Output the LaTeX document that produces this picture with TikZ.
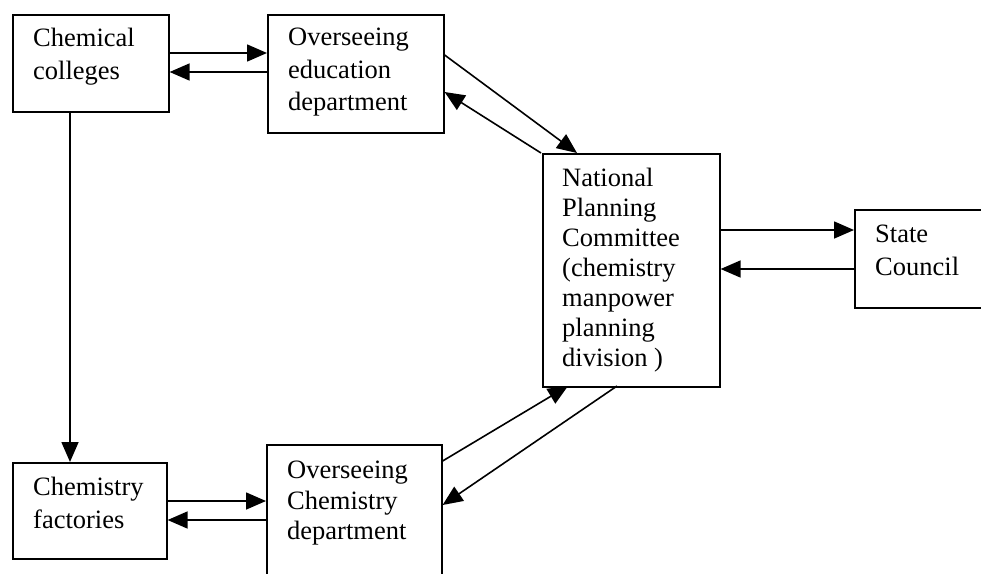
\documentclass[tikz,border=0pt]{standalone}
\usepackage{fontspec}
\setmainfont{Liberation Serif}
\usetikzlibrary{arrows.meta}
\tikzset{
  x=1pt, y=-1pt,
  boxframe/.style={draw, line width=1.6pt, anchor=north west, inner sep=0pt},
  boxtext/.style={anchor=north west, inner sep=0pt, align=left, font=\fontsize{26.5}{32.5}\selectfont},
  conn/.style={line width=1.6pt, -{Triangle[length=20pt, width=17pt]}}
}
\begin{document}
\begin{tikzpicture}
\useasboundingbox (0,0) rectangle (981,573);
% boxes
\node[boxframe, minimum width=156pt, minimum height=97pt] (cc) at (12,14) {};
\node[boxtext] (cct) at (33,28) {Chemical\\colleges};
\node[boxframe, minimum width=176pt, minimum height=118pt] (oe) at (267,14) {};
\node[boxtext] (oet) at (288,28) {Overseeing\\education\\department};
\node[boxframe, minimum width=177pt, minimum height=233pt] (np) at (542,153) {};
\node[boxtext, font=\fontsize{26.5}{30}\selectfont] (npt) at (562,168) {National\\Planning\\Committee\\(chemistry\\manpower\\planning\\division )};
\node[boxframe, minimum width=140pt, minimum height=98pt] (sc) at (854,209) {};
\node[boxtext] (sct) at (875,225) {State\\Council};
\node[boxframe, minimum width=154pt, minimum height=96pt] (cf) at (12,462) {};
\node[boxtext] (cft) at (33,477) {Chemistry\\factories};
\node[boxframe, minimum width=175pt, minimum height=140pt] (oc) at (266,444) {};
\node[boxtext, font=\fontsize{26.5}{30.5}\selectfont] (oct) at (287,461) {Overseeing\\Chemistry\\department};
% connectors
\draw[conn] (cc.east |- 0,53) -- (oe.west |- 0,53);
\draw[conn] (oe.west |- 0,72) -- (cc.east |- 0,72);
\draw[conn] (70,111) -- (70,462);
\draw[conn] (cf.east |- 0,501) -- (oc.west |- 0,501);
\draw[conn] (oc.west |- 0,520) -- (cf.east |- 0,520);
\draw[conn] (np.east |- 0,230) -- (sc.west |- 0,230);
\draw[conn] (sc.west |- 0,269) -- (np.east |- 0,269);
\draw[conn] (oe.east |- 0,55) -- (577,153);
\draw[conn] (541,153) -- (oe.east |- 0,92);
\draw[conn] (oc.east |- 0,461) -- (568,386);
\draw[conn] (617,386) -- (oc.east |- 0,505);
\end{tikzpicture}
\end{document}
